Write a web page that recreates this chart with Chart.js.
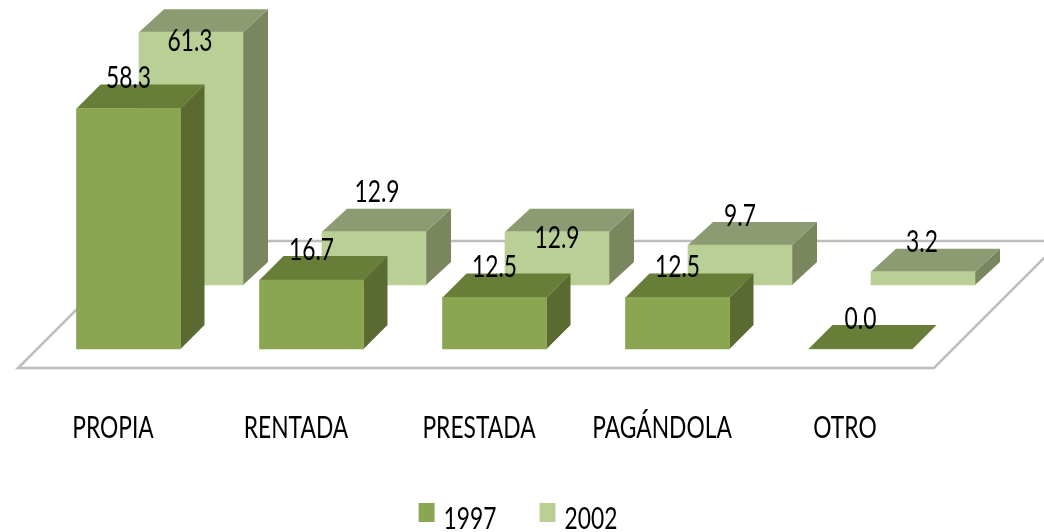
<!DOCTYPE html>
<html>
<head>
<meta charset="utf-8">
<style>html,body{margin:0;padding:0;background:#fff}canvas{display:block}</style>
<script src="https://cdn.jsdelivr.net/npm/chart.js@4"></script>
</head>
<body>
<canvas id="c" width="1044" height="532"></canvas>
<script>
const categories = ['PROPIA', 'RENTADA', 'PRESTADA', 'PAGÁNDOLA', 'OTRO'];
const series1997 = [58.3, 16.7, 12.5, 12.5, 0.0];
const series2002 = [61.3, 12.9, 12.9, 9.7, 3.2];

const FONT = 'Lato, "Liberation Sans", sans-serif';
const TEXT_SQUEEZE = 0.76;
const looks = [
  { front: '#8ba650', side: '#5a6a30', top: '#687d37', dx: 15.5, dy: 0, depthX: 24, depthY: 24,
    nudgeX: [0, 0, 0, 0, 0], nudgeY: [-30, -30, -30, -30, -30] },
  { front: '#b9cf96', side: '#79865e', top: '#8d9b72', dx: 78, dy: -64, depthX: 25, depthY: 23,
    nudgeX: [-1, 3, 0, 0, -1], nudgeY: [9.5, -39, 6.5, -29, -29] }
];

const canvas = document.getElementById('c');
const rawCtx = canvas.getContext('2d');
// The reference's text is a horizontally squeezed humanist face: squeeze all canvas text.
const origFill = rawCtx.fillText.bind(rawCtx);
const origMeasure = rawCtx.measureText.bind(rawCtx);
rawCtx.fillText = function (t, x, y, w) {
  rawCtx.save();
  rawCtx.translate(x, y);
  rawCtx.scale(TEXT_SQUEEZE, 1);
  origFill(t, 0, 0);
  rawCtx.restore();
};
rawCtx.measureText = function (t) {
  const m = origMeasure(t);
  return { width: m.width * TEXT_SQUEEZE, actualBoundingBoxAscent: m.actualBoundingBoxAscent, actualBoundingBoxDescent: m.actualBoundingBoxDescent };
};

function swatch(color) {
  const s = document.createElement('canvas');
  s.width = 40; s.height = 40;
  const c = s.getContext('2d');
  c.fillStyle = color;
  c.fillRect(15, 4, 16, 19);
  return s;
}

function poly(ctx, pts, fill) {
  ctx.beginPath();
  pts.forEach((p, i) => i ? ctx.lineTo(p[0], p[1]) : ctx.moveTo(p[0], p[1]));
  ctx.closePath();
  ctx.fillStyle = fill;
  ctx.fill();
}

const box3d = {
  id: 'box3d',
  afterLayout(chart) {
    const lg = chart.legend;
    lg.left += 39; lg.right += 39;
    lg.top += 2; lg.bottom += 2;
  },
  beforeDatasetsDraw(chart) {
    const { ctx, chartArea: a } = chart;
    const base = chart.scales.y.getPixelForValue(0);
    const fy = base + 19, by = base - 108;
    const fl = a.left - 3.5, fr = a.right - 2.5, run = fy - by;
    ctx.save();
    ctx.strokeStyle = '#bdbdbd';
    ctx.lineWidth = 2.5;
    ctx.beginPath();
    ctx.moveTo(fl, fy);
    ctx.lineTo(fr, fy);
    ctx.lineTo(fr + run, by);
    ctx.lineTo(fl + run, by);
    ctx.closePath();
    ctx.stroke();
    ctx.restore();
  },
  beforeDatasetDraw(chart, args) {
    const { ctx } = chart;
    const look = looks[args.index];
    const dX = look.depthX, dY = look.depthY;
    ctx.save();
    ctx.translate(look.dx, look.dy);
    chart.getDatasetMeta(args.index).data.forEach(el => {
      const p = el.getProps(['x', 'y', 'base', 'width'], true);
      const l = p.x - p.width / 2, r = p.x + p.width / 2;
      poly(ctx, [[r, p.y], [r + dX, p.y - dY], [r + dX, p.base - dY], [r, p.base]], look.side);
      poly(ctx, [[l, p.y], [l + dX, p.y - dY], [r + dX, p.y - dY], [r, p.y]], look.top);
    });
  },
  afterDatasetDraw(chart) {
    chart.ctx.restore();
  },
  afterDatasetsDraw(chart) {
    const { ctx } = chart;
    ctx.save();
    ctx.font = '30px ' + FONT;
    ctx.fillStyle = '#000';
    ctx.textAlign = 'center';
    ctx.textBaseline = 'middle';
    chart.data.datasets.forEach((ds, i) => {
      const look = looks[i];
      chart.getDatasetMeta(i).data.forEach((el, j) => {
        const p = el.getProps(['x', 'y'], true);
        ctx.fillText(ds.data[j].toFixed(1), p.x + look.dx + look.nudgeX[j], p.y + look.dy + look.nudgeY[j]);
      });
    });
    ctx.restore();
  }
};

new Chart(canvas, {
  type: 'bar',
  data: {
    labels: categories,
    datasets: [
      { label: '1997', data: series1997, backgroundColor: looks[0].front, clip: false, pointStyle: swatch(looks[0].front) },
      { label: '2002', data: series2002, backgroundColor: looks[1].front, clip: false, pointStyle: swatch(looks[1].front) }
    ]
  },
  options: {
    responsive: false,
    animation: false,
    devicePixelRatio: 1,
    layout: { padding: { left: 21.5, right: 107.5, top: 19, bottom: -10 } },
    datasets: { bar: { grouped: false, barThickness: 104 } },
    scales: {
      x: {
        grid: { display: false },
        border: { display: false },
        afterFit(s) { s.height = 110; },
        ticks: { color: '#000', padding: 53, maxRotation: 0, autoSkip: false, font: { family: FONT, size: 30 } }
      },
      y: { display: false, min: 0, max: 80 }
    },
    plugins: {
      tooltip: { enabled: false },
      legend: {
        position: 'bottom',
        labels: { usePointStyle: true, pointStyleWidth: 10, padding: 43, color: '#000', font: { family: FONT, size: 30 } }
      }
    }
  },
  plugins: [box3d]
});
</script>
</body>
</html>
